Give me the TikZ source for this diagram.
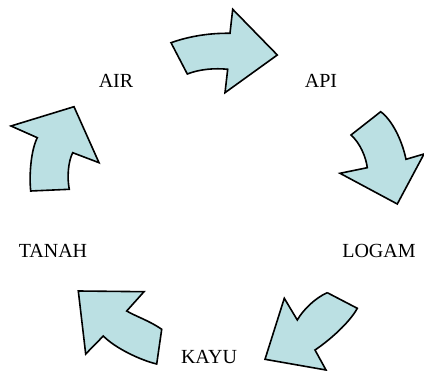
\documentclass[tikz,border=0pt]{standalone}
\usepackage{fontspec}
\setmainfont{Liberation Serif}
\definecolor{arrowfill}{RGB}{187,224,227}
\begin{document}
\begin{tikzpicture}[x=1pt,y=-1pt,
  bigarrow/.style={fill=arrowfill,draw=black,line width=1.6pt,line join=miter},
  lbl/.style={font=\fontsize{20}{24}\selectfont,inner sep=0pt}]
\useasboundingbox (0,0) rectangle (424,371);
% top arrow (AIR -> API)
\draw[bigarrow] (171,42.7) .. controls (190,36) and (210,33) .. (230,33.3)
  -- (232.7,9.3) -- (277.3,55) -- (225,92.7) -- (227.7,69.3)
  .. controls (215,68) and (200,69) .. (187.3,74) -- cycle;
% right arrow (API -> LOGAM)
\draw[bigarrow] (380.7,111.7) .. controls (392,120) and (402,140) .. (406,159.3)
  -- (424,154) -- (397.3,204) -- (340,173.3) -- (367.3,167.7)
  .. controls (366,157) and (360,143) .. (351,135) -- cycle;
% bottom-right arrow (LOGAM -> KAYU)
\draw[bigarrow] (327.3,292.7) -- (357.3,308.3)
  .. controls (350,322) and (330,340) .. (315,350)
  -- (326,370) -- (265,359.3) -- (284.3,298.3) -- (297.3,320)
  .. controls (303,310) and (315,298) .. (327.3,292.7);
% bottom-left arrow (KAYU -> TANAH)
\draw[bigarrow] (78.3,291) -- (144,291.7) -- (126.7,311)
  .. controls (135,316) and (150,321) .. (161.7,329.3)
  -- (156.7,364) .. controls (140,360) and (115,348) .. (103.3,336)
  -- (85.7,354) -- cycle;
% left arrow (TANAH -> AIR)
\draw[bigarrow] (74,106.7) -- (99,162.7) -- (72.7,152.7)
  .. controls (68,162) and (67,178) .. (69.3,189.3)
  -- (30.7,191) .. controls (29,175) and (31,150) .. (37.3,137.7)
  -- (11,126) -- cycle;
% labels
\node[lbl] (air) at (116,81) {AIR};
\node[lbl] (api) at (321,81) {API};
\node[lbl] (logam) at (379,251) {LOGAM};
\node[lbl] (tanah) at (53,251) {TANAH};
\node[lbl] (kayu) at (209,357) {KAYU};
\end{tikzpicture}
\end{document}
